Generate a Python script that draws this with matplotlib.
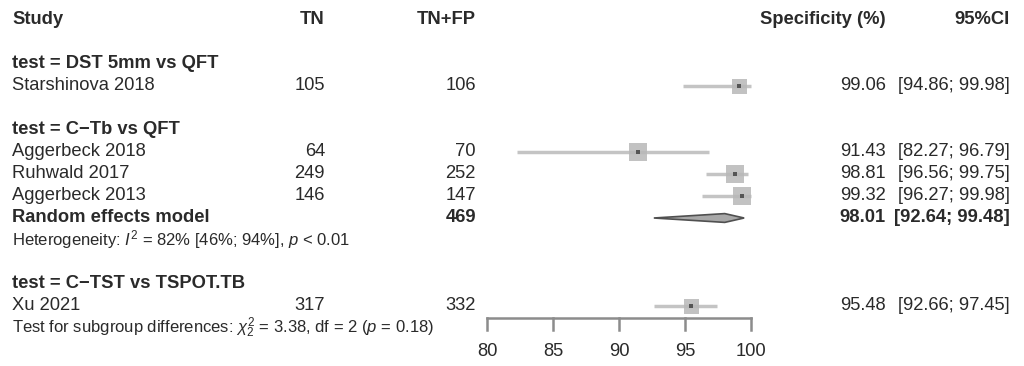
import numpy as np
import matplotlib
matplotlib.use("Agg")
import matplotlib.pyplot as plt
from matplotlib.transforms import blended_transform_factory

plt.rcParams['font.family'] = ['Liberation Sans', 'DejaVu Sans']
plt.rcParams['mathtext.fontset'] = 'custom'
plt.rcParams['mathtext.rm'] = 'Liberation Sans'
plt.rcParams['mathtext.it'] = 'Liberation Sans:italic'

# Datos de los estudios
grupos = ["test = DST 5mm vs QFT", "test = C\u2212Tb vs QFT", "test = C\u2212TST vs TSPOT.TB"]
estudios = ["Starshinova 2018", "Aggerbeck 2018", "Ruhwald 2017", "Aggerbeck 2013", "Xu 2021"]
grupo_estudio = [0, 1, 1, 1, 2]
tn = [105, 64, 249, 146, 317]
tn_fp = [106, 70, 252, 147, 332]
espec = [99.06, 91.43, 98.81, 99.32, 95.48]
ic_inf = [94.86, 82.27, 96.56, 96.27, 92.66]
ic_sup = [99.98, 96.79, 99.75, 99.98, 97.45]

# Modelo de efectos aleatorios del grupo C-Tb
re_total = 469
re_espec = 98.01
re_inf = 92.64
re_sup = 99.48
heterog = "Heterogeneity: $I^2$ = 82% [46%; 94%], $p$ < 0.01"
subgrupos = "Test for subgroup differences: $\\chi^2_2$ = 3.38, df = 2 ($p$ = 0.18)"

ticks = [80, 85, 90, 95, 100]

# Filas de cada elemento (una fila = 22 px)
fila_estudio = [3, 6, 7, 8, 13]
fila_grupo = [2, 5, 12]
fila_re = 9
fila_het = 10
fila_sub = 14
tam_cuadro = [15, 18, 18, 18, 15]  # px

W, H = 1024, 366
fig = plt.figure(figsize=(W / 100, H / 100), dpi=100)
x0, x1 = 487, 751
ax = fig.add_axes([x0 / W, 0, (x1 - x0) / W, 1])
ax.set_xlim(80, 100)
ax.set_ylim((H - 20) / 22, -20 / 22)
ax.axis('off')

tr = blended_transform_factory(fig.transFigure, ax.transData)
fs = 13.2
fs_chico = 12
col_txt = '#2a2a2a'

def txt(xpix, fila, s, ha='left', bold=False, size=fs):
    ax.text(xpix / W, fila, s, transform=tr, ha=ha, va='center', fontsize=size,
            fontweight='bold' if bold else 'normal', color=col_txt)

# Encabezados
txt(12, 0, "Study", bold=True)
txt(325, 0, "TN", ha='right', bold=True)
txt(476, 0, "TN+FP", ha='right', bold=True)
txt(886, 0, "Specificity (%)", ha='right', bold=True)
txt(1010, 0, "95%CI", ha='right', bold=True)

for g, f in zip(grupos, fila_grupo):
    txt(12, f, g, bold=True)

# Estudios individuales
for i in range(len(estudios)):
    f = fila_estudio[i]
    txt(12, f, estudios[i])
    txt(325, f, str(tn[i]), ha='right')
    txt(476, f, str(tn_fp[i]), ha='right')
    txt(886, f, f"{espec[i]:.2f}", ha='right')
    txt(1010, f, f"[{ic_inf[i]:.2f}; {ic_sup[i]:.2f}]", ha='right')
    ax.plot([ic_inf[i], ic_sup[i]], [f, f], color='#c4c4c4', lw=2.5,
            solid_capstyle='butt', clip_on=False, zorder=2)
    ax.plot(espec[i], f, marker='s', markersize=tam_cuadro[i] * 0.72,
            color='#b8b8b8', alpha=0.85, markeredgewidth=0, clip_on=False, zorder=3)
    ax.plot(espec[i], f, marker='s', markersize=2.2, color='#555555',
            markeredgewidth=0, clip_on=False, zorder=4)

# Efectos aleatorios
txt(12, fila_re, "Random effects model", bold=True)
txt(476, fila_re, str(re_total), ha='right', bold=True)
txt(886, fila_re, f"{re_espec:.2f}", ha='right', bold=True)
txt(1010, fila_re, f"[{re_inf:.2f}; {re_sup:.2f}]", ha='right', bold=True)
h = 0.2
ax.fill([re_inf, re_espec, re_sup, re_espec], [fila_re, fila_re - h, fila_re, fila_re + h],
        facecolor='#a8a8a8', edgecolor='#505050', lw=1.2, clip_on=False, zorder=3)

txt(12, fila_het, heterog, size=fs_chico)
txt(12, fila_sub, subgrupos, size=fs_chico)

# Eje x
y_eje = (318 - 20) / 22
largo = 12 / 22
ax.plot([ticks[0], ticks[-1]], [y_eje, y_eje], color='#8c8c8c', lw=1.8, clip_on=False)
for t in ticks:
    ax.plot([t, t], [y_eje, y_eje + largo], color='#8c8c8c', lw=1.8, clip_on=False)
    ax.text(t, (352 - 20) / 22, str(t), ha='center', va='center', fontsize=fs, color=col_txt)

fig.savefig("out.png", dpi=100)
